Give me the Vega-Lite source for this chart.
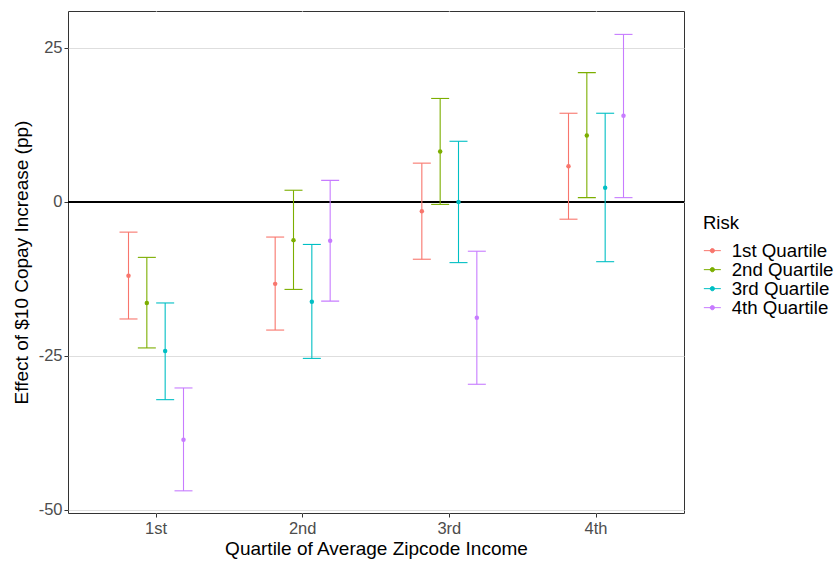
{
  "$schema": "https://vega.github.io/schema/vega-lite/v6.json",
  "autosize": {"type": "none"},
  "padding": {"left": 68, "top": 11, "right": 152, "bottom": 48},
  "width": 616,
  "height": 502,
  "background": "white",
  "config": {
    "font": "Liberation Sans",
    "view": {"stroke": "#333333", "strokeWidth": 1},
    "axis": {
      "labelFont": "Liberation Sans",
      "titleFont": "Liberation Sans",
      "labelFontSize": 16.5,
      "labelColor": "#4D4D4D",
      "titleFontSize": 19,
      "titleFontWeight": "normal",
      "titleColor": "#000000",
      "tickColor": "#333333",
      "tickSize": 4,
      "domain": false
    }
  },
  "data": {
    "values": [
      {"income": "1st", "risk": "1st Quartile", "est": -12.0, "lo": -19.0, "hi": -4.9},
      {"income": "1st", "risk": "2nd Quartile", "est": -16.4, "lo": -23.7, "hi": -9.0},
      {"income": "1st", "risk": "3rd Quartile", "est": -24.2, "lo": -32.1, "hi": -16.4},
      {"income": "1st", "risk": "4th Quartile", "est": -38.6, "lo": -46.9, "hi": -30.2},
      {"income": "2nd", "risk": "1st Quartile", "est": -13.3, "lo": -20.8, "hi": -5.7},
      {"income": "2nd", "risk": "2nd Quartile", "est": -6.2, "lo": -14.2, "hi": 1.9},
      {"income": "2nd", "risk": "3rd Quartile", "est": -16.2, "lo": -25.4, "hi": -6.9},
      {"income": "2nd", "risk": "4th Quartile", "est": -6.3, "lo": -16.1, "hi": 3.5},
      {"income": "3rd", "risk": "1st Quartile", "est": -1.5, "lo": -9.3, "hi": 6.3},
      {"income": "3rd", "risk": "2nd Quartile", "est": 8.2, "lo": -0.4, "hi": 16.8},
      {"income": "3rd", "risk": "3rd Quartile", "est": 0.0, "lo": -9.85, "hi": 9.85},
      {"income": "3rd", "risk": "4th Quartile", "est": -18.8, "lo": -29.6, "hi": -8.0},
      {"income": "4th", "risk": "1st Quartile", "est": 5.8, "lo": -2.8, "hi": 14.4},
      {"income": "4th", "risk": "2nd Quartile", "est": 10.8, "lo": 0.7, "hi": 21.0},
      {"income": "4th", "risk": "3rd Quartile", "est": 2.3, "lo": -9.7, "hi": 14.4},
      {"income": "4th", "risk": "4th Quartile", "est": 14.0, "lo": 0.7, "hi": 27.2}
    ]
  },
  "encoding": {
    "x": {
      "field": "income",
      "type": "nominal",
      "sort": ["1st", "2nd", "3rd", "4th"],
      "scale": {"type": "band", "paddingInner": 0.5, "paddingOuter": 0.35},
      "axis": {
        "title": "Quartile of Average Zipcode Income",
        "labelAngle": 0,
        "labelPadding": 3,
        "titlePadding": 3,
        "grid": true,
        "gridColor": "#FFFFFF",
        "gridWidth": 1.2,
        "bandPosition": 0.5
      }
    },
    "xOffset": {
      "field": "risk",
      "type": "nominal",
      "scale": {"paddingInner": 0, "paddingOuter": 0}
    },
    "color": {
      "field": "risk",
      "type": "nominal",
      "scale": {
        "domain": ["1st Quartile", "2nd Quartile", "3rd Quartile", "4th Quartile"],
        "range": ["#F8766D", "#7CAE00", "#00BFC4", "#C77CFF"]
      },
      "legend": {
        "title": "Risk",
        "orient": "none",
        "legendX": 635,
        "legendY": 203,
        "titleFont": "Liberation Sans",
        "titleFontSize": 18.5,
        "titleFontWeight": "normal",
        "titleColor": "#000000",
        "titlePadding": 9,
        "labelFont": "Liberation Sans",
        "labelFontSize": 18.7,
        "labelColor": "#000000",
        "labelOffset": 10,
        "rowPadding": 0,
        "clipHeight": 18.3,
        "symbolType": "M-1,0L1,0M-0.25,0A0.25,0.25,0,1,1,0.25,0A0.25,0.25,0,1,1,-0.25,0Z",
        "symbolSize": 289,
        "symbolStrokeWidth": 1,
        "symbolOpacity": 1
      }
    }
  },
  "layer": [
    {
      "mark": {"type": "rule", "color": "#000000", "strokeWidth": 1.2},
      "encoding": {"y": {"datum": 0}, "x": null, "xOffset": null, "color": null}
    },
    {
      "mark": {"type": "rule", "strokeWidth": 1.1},
      "encoding": {
        "y": {
          "field": "lo",
          "type": "quantitative",
          "scale": {"domain": [-50.5, 31], "nice": false, "zero": false},
          "axis": {
            "title": "Effect of $10 Copay Increase (pp)",
            "values": [-50, -25, 0, 25],
            "labelExpr": "datum.value < 0 ? '-' + abs(datum.value) : '' + datum.value",
            "grid": true,
            "gridColor": "#DEDEDE",
            "gridWidth": 1.2,
            "labelPadding": 2,
            "titlePadding": 7
          }
        },
        "y2": {"field": "hi"}
      }
    },
    {
      "mark": {"type": "tick", "orient": "horizontal", "size": 18, "thickness": 1.1, "opacity": 1},
      "encoding": {"y": {"field": "lo", "type": "quantitative"}}
    },
    {
      "mark": {"type": "tick", "orient": "horizontal", "size": 18, "thickness": 1.1, "opacity": 1},
      "encoding": {"y": {"field": "hi", "type": "quantitative"}}
    },
    {
      "mark": {"type": "point", "filled": true, "shape": "circle", "size": 20, "opacity": 1},
      "encoding": {"y": {"field": "est", "type": "quantitative"}}
    }
  ]
}
